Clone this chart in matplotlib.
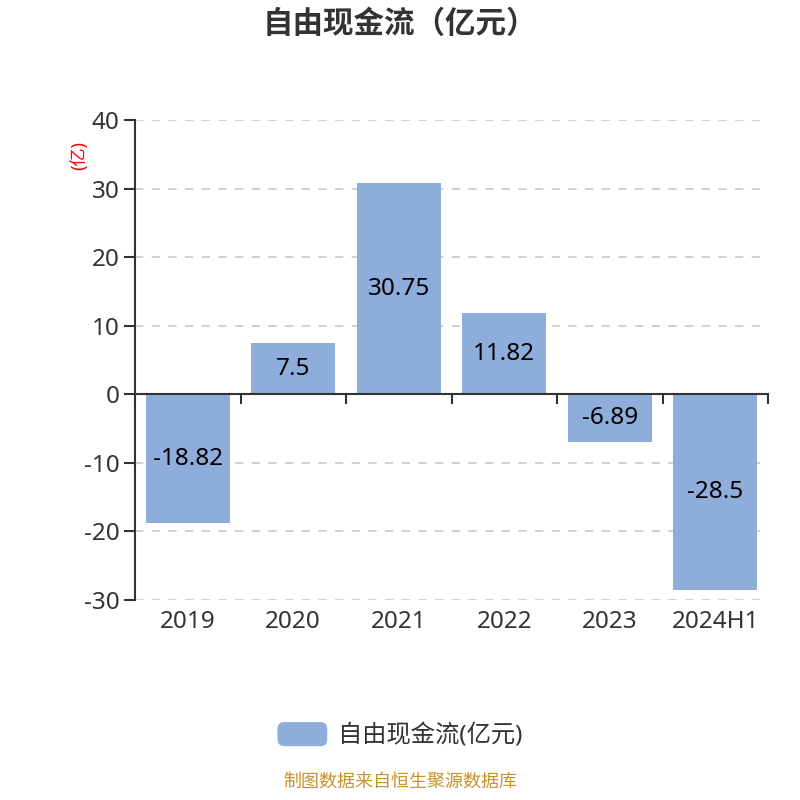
import matplotlib
matplotlib.use("Agg")
import matplotlib.pyplot as plt
import matplotlib.transforms as mtransforms
from matplotlib.patches import FancyBboxPatch, Patch
from matplotlib.legend_handler import HandlerPatch

plt.rcParams['font.family'] = ['Noto Sans', 'Noto Sans CJK SC', 'DejaVu Sans']

categories = ["2019", "2020", "2021", "2022", "2023", "2024H1"]
values = [-18.82, 7.5, 30.75, 11.82, -6.89, -28.5]
value_labels = ["-18.82", "7.5", "30.75", "11.82", "-6.89", "-28.5"]
y_ticks = [-30, -20, -10, 0, 10, 20, 30, 40]
title = "自由现金流（亿元）"
series_name = "自由现金流(亿元)"
unit_label = "(亿)"
source = "制图数据来自恒生聚源数据库"

bar_color = "#8EADDA"
text_color = "#333333"

fig = plt.figure(figsize=(8, 8), dpi=100)
ax = fig.add_axes([0.16875, 0.25, 0.79125, 0.6])

x = list(range(len(categories)))
ax.bar(x, values, width=0.8, color=bar_color, zorder=2)
for xi, v, lab in zip(x, values, value_labels):
    ax.text(xi, v / 2, lab, ha='center', va='center', fontsize=17.5, color='black', zorder=3)

ax.set_xlim(-0.5, len(categories) - 0.5)
ax.set_ylim(-30, 40)
ax.set_yticks(y_ticks)
ax.set_yticklabels([str(t) for t in y_ticks], fontsize=17.5, color=text_color)
for t in y_ticks:
    if t != 0:
        ax.axhline(t, color='#C8C8C8', lw=1.2, ls=(0, (5, 5)), zorder=1)

ax.tick_params(axis='y', length=8, width=1.5, color=text_color, pad=3)
for s in ['top', 'right']:
    ax.spines[s].set_visible(False)
ax.spines['left'].set_color(text_color)
ax.spines['left'].set_linewidth(1.5)
ax.spines['bottom'].set_position(('data', 0))
ax.spines['bottom'].set_color(text_color)
ax.spines['bottom'].set_linewidth(1.5)
ax.spines['bottom'].set_zorder(4)

bounds = [i - 0.5 for i in range(len(categories) + 1)]
ax.set_xticks(bounds)
ax.set_xticklabels([''] * len(bounds))
ax.tick_params(axis='x', length=7, width=1.5, color=text_color, direction='out')

trans = mtransforms.blended_transform_factory(ax.transData, ax.transAxes)
for xi, c in zip(x, categories):
    ax.text(xi, -0.02, c, transform=trans, ha='center', va='top', fontsize=17.5, color=text_color)

ax.text(-0.088, 0.925, unit_label, transform=ax.transAxes, rotation=90, ha='center', va='center',
        fontsize=13, color='red')

fig.text(0.5, 0.969, title, ha='center', va='center', fontsize=22, fontweight='bold', color=text_color)


class RoundHandler(HandlerPatch):
    def create_artists(self, legend, orig_handle, xdescent, ydescent, width, height, fontsize, trans):
        p = FancyBboxPatch((-xdescent, -ydescent), width, height,
                           boxstyle="round,pad=0,rounding_size=5",
                           facecolor=bar_color, edgecolor='none', transform=trans)
        return [p]


handle = Patch(color=bar_color, label=series_name)
fig.legend(handles=[handle], loc='center', bbox_to_anchor=(0.5, 0.081), frameon=False,
           fontsize=17.5, handlelength=2.05, handleheight=1.15, handletextpad=0.45,
           handler_map={Patch: RoundHandler()}, labelcolor=text_color)

fig.text(0.5, 0.012, source, ha='center', va='bottom', fontsize=13, color='#C8922A')

fig.savefig("out.png", dpi=100)
